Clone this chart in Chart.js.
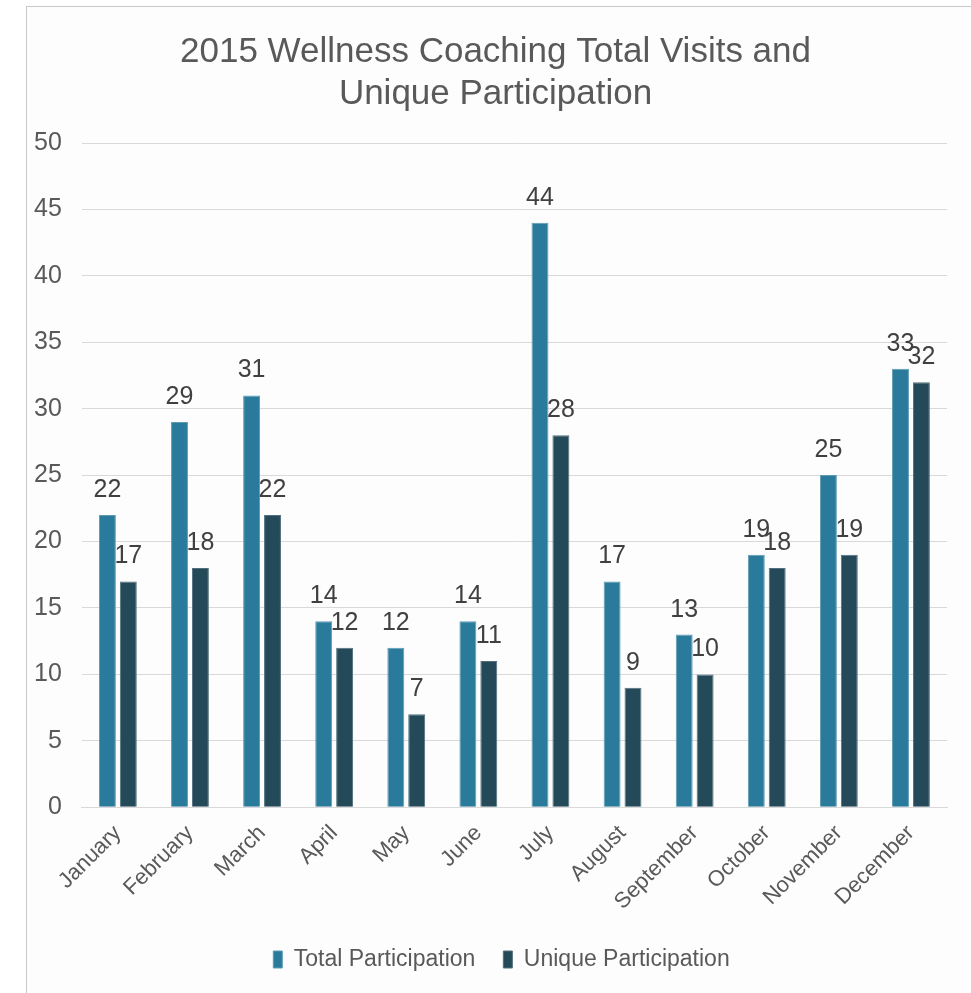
<!DOCTYPE html>
<html lang="en">
<head>
    <meta charset="UTF-8">
    <title>2015 Wellness Coaching</title>
    <script src="https://cdn.jsdelivr.net/npm/chart.js"></script>
    <style>
        body { margin: 0; background: #ffffff; }
        #frame {
            position: absolute; left: 26px; top: 6px; width: 960px; height: 1000px;
            border-left: 1px solid #c8c8c8; border-top: 1px solid #c8c8c8;
            background: #fdfdfd;
        }
        #wrap { position: absolute; left: 0; top: 0; width: 971px; height: 993px; }
    </style>
</head>
<body>
    <div id="frame"></div>
    <div id="wrap"><canvas id="visitsChart" width="971" height="993"></canvas></div>

    <script>
        const months = ['January', 'February', 'March', 'April', 'May', 'June',
                        'July', 'August', 'September', 'October', 'November', 'December'];
        const totalParticipation = [22, 29, 31, 14, 12, 14, 44, 17, 13, 19, 25, 33];
        const uniqueParticipation = [17, 18, 22, 12, 7, 11, 28, 9, 10, 18, 19, 32];
        const yTicks = [0, 5, 10, 15, 20, 25, 30, 35, 40, 45, 50];

        const FONT = "'Liberation Sans', Arial, sans-serif";

        // writes each bar's value just above it
        const valueLabels = {
            id: 'valueLabels',
            afterDatasetsDraw(chart) {
                const ctx = chart.ctx;
                ctx.save();
                ctx.font = '25px ' + FONT;
                ctx.fillStyle = '#404040';
                ctx.textAlign = 'center';
                ctx.textBaseline = 'alphabetic';
                chart.data.datasets.forEach((ds, i) => {
                    chart.getDatasetMeta(i).data.forEach((bar, j) => {
                        ctx.fillText(ds.data[j], bar.x, bar.y - 18);
                    });
                });
                ctx.restore();
            }
        };

        // the white panel starts at x=26, so title and legend sit a little right of the canvas centre
        const centreOnPanel = {
            id: 'centreOnPanel',
            afterLayout(chart) {
                chart.titleBlock.left += 15;
                chart.titleBlock.right += 15;
                chart.legend.left += 21;
                chart.legend.right += 21;
            }
        };

        const ctx = document.getElementById('visitsChart').getContext('2d');
        const chart = new Chart(ctx, {
            type: 'bar',
            data: {
                labels: months,
                datasets: [{
                    label: 'Total Participation',
                    data: totalParticipation,
                    backgroundColor: '#2a7b9b',
                    borderColor: '#5d9bb3',
                    borderWidth: 1
                }, {
                    label: 'Unique Participation',
                    data: uniqueParticipation,
                    backgroundColor: '#244a5a',
                    borderColor: '#52707c',
                    borderWidth: 1
                }]
            },
            options: {
                responsive: false,
                animation: false,
                datasets: {
                    bar: { categoryPercentage: 0.58, barPercentage: 0.81 }
                },
                layout: { padding: { left: 14, right: 24, top: 0, bottom: 12 } },
                plugins: {
                    title: {
                        display: true,
                        text: ['2015 Wellness Coaching Total Visits and', 'Unique Participation'],
                        color: '#595959',
                        font: { family: FONT, size: 35, weight: 'normal', lineHeight: 1.2 },
                        padding: { top: 31, bottom: 28 }
                    },
                    legend: {
                        position: 'bottom',
                        labels: {
                            color: '#595959',
                            font: { family: FONT, size: 23 },
                            boxWidth: 9,
                            boxHeight: 17,
                            padding: 28
                        }
                    },
                    tooltip: { enabled: false }
                },
                scales: {
                    x: {
                        grid: { display: false },
                        border: { color: '#d9d9d9' },
                        ticks: {
                            color: '#595959',
                            font: { family: FONT, size: 22 },
                            minRotation: 45,
                            maxRotation: 45,
                            padding: 5
                        }
                    },
                    y: {
                        min: 0,
                        max: 50,
                        afterBuildTicks(axis) {
                            axis.ticks = yTicks.map(v => ({ value: v }));
                        },
                        grid: { color: '#d9d9d9', drawTicks: false },
                        border: { display: false },
                        ticks: {
                            color: '#595959',
                            font: { family: FONT, size: 25 },
                            padding: 20
                        }
                    }
                }
            },
            plugins: [valueLabels, centreOnPanel]
        });
    </script>
</body>
</html>
